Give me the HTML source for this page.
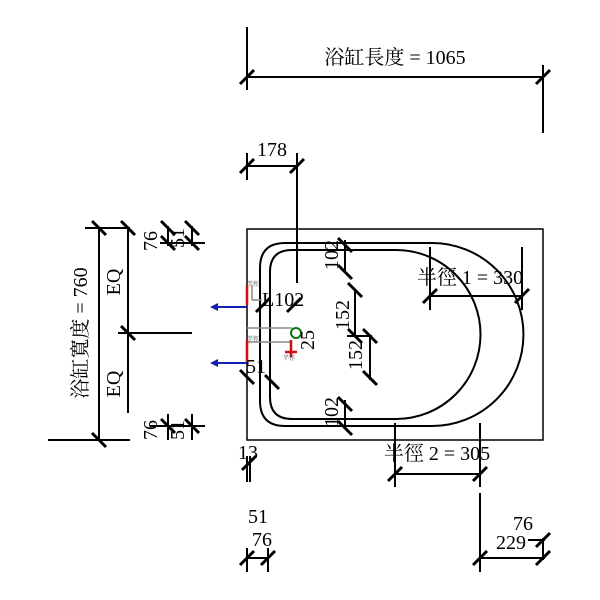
<!DOCTYPE html>
<html><head><meta charset="utf-8"><style>html,body{margin:0;padding:0;background:#fff}svg{display:block}</style></head>
<body>
<svg width="600" height="600" viewBox="0 0 600 600" xmlns="http://www.w3.org/2000/svg" font-family="'Liberation Serif','Noto Serif CJK SC',serif" fill="#000">
<g stroke="#000" stroke-width="2" fill="none">
<line x1="247" y1="27" x2="247" y2="90"/>
<line x1="543" y1="65" x2="543" y2="133"/>
<line x1="247" y1="77" x2="543" y2="77"/>
<line x1="247" y1="153" x2="247" y2="180"/>
<line x1="297" y1="153" x2="297" y2="283"/>
<line x1="247" y1="166" x2="297" y2="166"/>
<line x1="345" y1="240" x2="345" y2="272"/>
<line x1="355" y1="290" x2="355" y2="336"/>
<line x1="347" y1="336" x2="372" y2="336"/>
<line x1="370" y1="336" x2="370" y2="380"/>
<line x1="345" y1="400" x2="345" y2="428"/>
<line x1="430" y1="247" x2="430" y2="310"/>
<line x1="522" y1="247" x2="522" y2="310"/>
<line x1="430" y1="296" x2="522" y2="296"/>
<line x1="395" y1="423" x2="395" y2="487"/>
<line x1="480" y1="423" x2="480" y2="487"/>
<line x1="395" y1="474" x2="480" y2="474"/>
<line x1="480" y1="493" x2="480" y2="572"/>
<line x1="480" y1="558" x2="545" y2="558"/>
<line x1="543" y1="538" x2="543" y2="560"/>
<line x1="528" y1="540" x2="545" y2="540"/>
<line x1="247" y1="456" x2="247" y2="482"/>
<line x1="250" y1="456" x2="250" y2="482"/>
<line x1="247" y1="548" x2="247" y2="572"/>
<line x1="268" y1="548" x2="268" y2="572"/>
<line x1="247" y1="558" x2="268" y2="558"/>
<line x1="85" y1="228" x2="130" y2="228"/>
<line x1="48" y1="440" x2="130" y2="440"/>
<line x1="99" y1="228" x2="99" y2="440"/>
<line x1="128" y1="228" x2="128" y2="413"/>
<line x1="118" y1="333" x2="192" y2="333"/>
<line x1="168" y1="226" x2="168" y2="246"/>
<line x1="160" y1="243" x2="205" y2="243"/>
<line x1="192" y1="226" x2="192" y2="246"/>
<line x1="168" y1="414" x2="168" y2="440"/>
<line x1="150" y1="426" x2="205" y2="426"/>
<line x1="192" y1="414" x2="192" y2="440"/>
</g>
<g stroke="#000" stroke-width="3">
<line x1="240" y1="84" x2="254" y2="70"/><line x1="536" y1="84" x2="550" y2="70"/>
<line x1="240" y1="173" x2="254" y2="159"/><line x1="290" y1="173" x2="304" y2="159"/>
<line x1="338" y1="238" x2="352" y2="252"/><line x1="338" y1="265" x2="352" y2="279"/>
<line x1="348" y1="283" x2="362" y2="297"/><line x1="348" y1="329" x2="362" y2="343"/>
<line x1="363" y1="329" x2="377" y2="343"/><line x1="363" y1="371" x2="377" y2="385"/>
<line x1="338" y1="397" x2="352" y2="411"/><line x1="338" y1="421" x2="352" y2="435"/>
<line x1="423" y1="303" x2="437" y2="289"/><line x1="515" y1="303" x2="529" y2="289"/>
<line x1="388" y1="481" x2="402" y2="467"/><line x1="473" y1="481" x2="487" y2="467"/>
<line x1="473" y1="565" x2="487" y2="551"/><line x1="536" y1="565" x2="550" y2="551"/><line x1="536" y1="547" x2="550" y2="533"/>
<line x1="240" y1="565" x2="254" y2="551"/><line x1="261" y1="565" x2="275" y2="551"/>
<line x1="242" y1="470" x2="256" y2="456"/>
<line x1="92" y1="221" x2="106" y2="235"/><line x1="121" y1="221" x2="135" y2="235"/>
<line x1="92" y1="433" x2="106" y2="447"/><line x1="121" y1="326" x2="135" y2="340"/>
<line x1="161" y1="221" x2="175" y2="235"/><line x1="161" y1="236" x2="175" y2="250"/>
<line x1="185" y1="221" x2="199" y2="235"/><line x1="185" y1="236" x2="199" y2="250"/>
<line x1="161" y1="419" x2="175" y2="433"/><line x1="185" y1="419" x2="199" y2="433"/>
<line x1="240" y1="370" x2="254" y2="384"/><line x1="256" y1="312" x2="270" y2="298"/>
<line x1="287" y1="312" x2="301" y2="298"/><line x1="265" y1="375" x2="279" y2="389"/>
</g>
<g stroke="#000" stroke-width="2" fill="none">
<rect x="247" y="229" width="296" height="211" stroke-width="1.5"/>
<path d="M432 243 L285 243 Q260 243 260 268 L260 401 Q260 426 285 426 L432 426 A91.5 91.5 0 0 0 432 243"/>
<path d="M396 250 L292 250 Q270 250 270 272 L270 397 Q270 419 292 419 L396 419 A84.5 84.5 0 0 0 396 250"/>
</g>
<g stroke="#888" stroke-width="1.5"><line x1="247" y1="328" x2="292" y2="328"/><line x1="247" y1="342" x2="292" y2="342"/><line x1="252" y1="285" x2="252" y2="300"/><line x1="252" y1="300" x2="262" y2="300"/></g>
<g stroke="#d01010" stroke-width="2.5"><line x1="247" y1="285" x2="247" y2="305"/><line x1="247" y1="340" x2="247" y2="362"/><line x1="291" y1="340" x2="291" y2="357"/><line x1="285" y1="352" x2="297" y2="352"/></g>
<g stroke="#1020b0" stroke-width="2"><line x1="247" y1="307" x2="215" y2="307"/><line x1="247" y1="363" x2="215" y2="363"/></g>
<polygon points="210,307 218,303 218,311" fill="#1020b0"/><polygon points="210,363 218,359 218,367" fill="#1020b0"/>
<circle cx="296" cy="333" r="5" stroke="#107010" stroke-width="2" fill="none"/>
<g font-size="6" fill="#334">
<text x="247" y="286">半徑</text><text x="247" y="341">半徑</text><text x="283" y="360">半徑</text>
</g>
<g font-size="20">
<text x="395" y="64" text-anchor="middle">浴缸長度 = 1065</text>
<text x="272" y="156" text-anchor="middle">178</text>
<text x="470" y="284" text-anchor="middle">半徑 1 = 330</text>
<text x="437" y="460" text-anchor="middle">半徑 2 = 305</text>
<text x="262" y="306">L102</text>
<text x="256" y="373" text-anchor="middle">51</text>
<text x="248" y="459" text-anchor="middle">13</text>
<text x="258" y="523" text-anchor="middle">51</text>
<text x="262" y="546" text-anchor="middle">76</text>
<text x="523" y="530" text-anchor="middle">76</text>
<text x="511" y="549" text-anchor="middle">229</text>
<text transform="translate(87,333) rotate(-90)" text-anchor="middle">浴缸寬度 = 760</text>
<text transform="translate(120,282) rotate(-90)" text-anchor="middle">EQ</text>
<text transform="translate(120,384) rotate(-90)" text-anchor="middle">EQ</text>
<text transform="translate(157,241) rotate(-90)" text-anchor="middle">76</text>
<text transform="translate(184,238) rotate(-90)" text-anchor="middle">51</text>
<text transform="translate(157,430) rotate(-90)" text-anchor="middle">76</text>
<text transform="translate(184,430) rotate(-90)" text-anchor="middle">51</text>
<text transform="translate(338,255) rotate(-90)" text-anchor="middle">102</text>
<text transform="translate(349,315) rotate(-90)" text-anchor="middle">152</text>
<text transform="translate(362,355) rotate(-90)" text-anchor="middle">152</text>
<text transform="translate(338,412) rotate(-90)" text-anchor="middle">102</text>
<text transform="translate(314,340) rotate(-90)" text-anchor="middle">25</text>
</g>
</svg>
</body></html>
